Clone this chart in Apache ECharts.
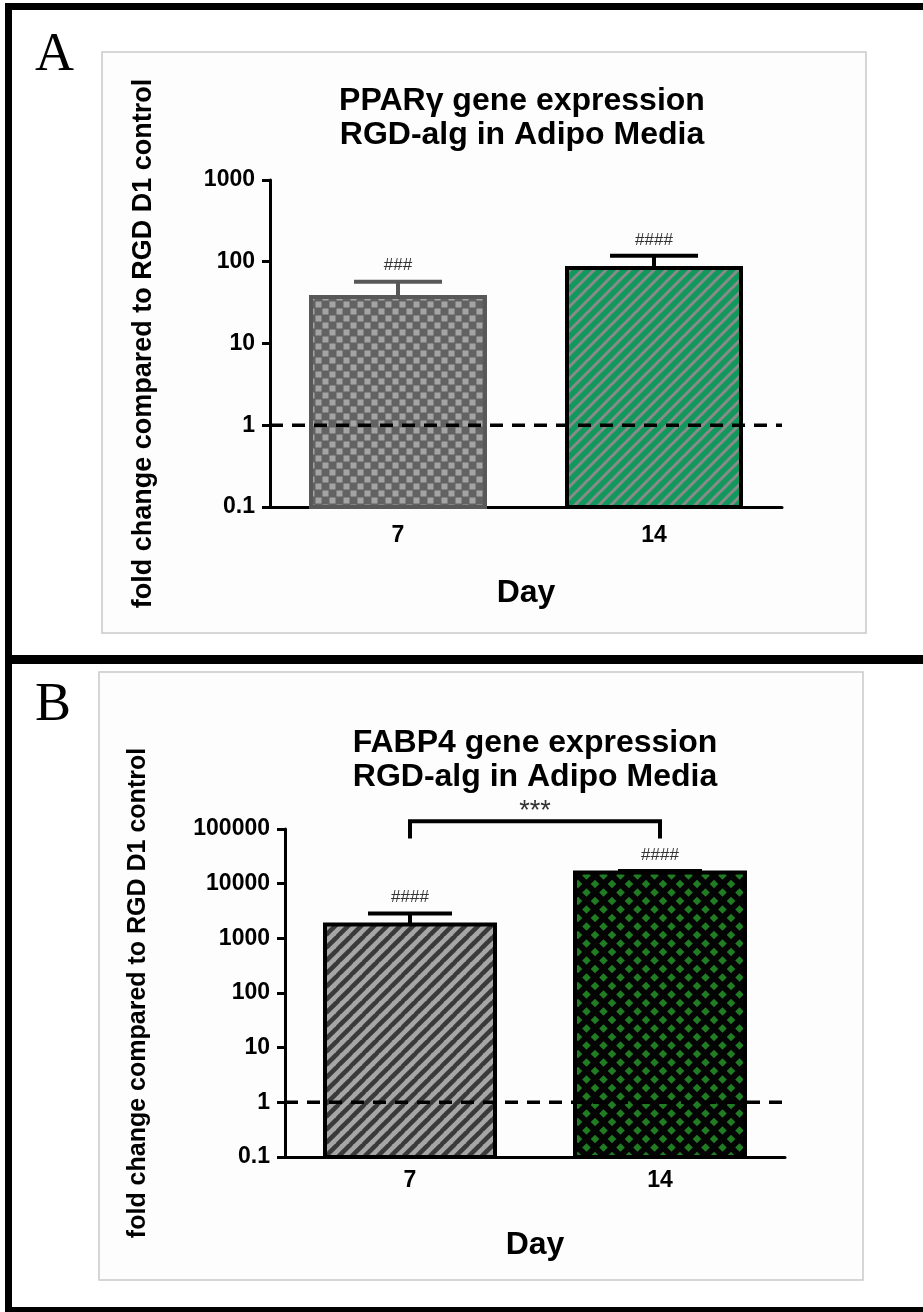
<!DOCTYPE html>
<html>
<head>
<meta charset="utf-8">
<title>PPARγ and FABP4 gene expression, RGD-alg in Adipo Media</title>
<script src="https://cdn.jsdelivr.net/npm/echarts@6/dist/echarts.min.js"></script>
<style>
  html, body { margin: 0; padding: 0; background: #ffffff; }
  #chart { width: 923px; height: 1312px; }
</style>
</head>
<body>
<div id="chart"></div>
<script>
// ---- data ----
const days = ['7', '14'];

// Panel A: PPARγ fold change (mean, mean + SEM)
const pparMean = [37, 84];
const pparUpper = [57, 118];
const pparMarks = ['###', '####'];
const pparTicks = [0.1, 1, 10, 100, 1000];

// Panel B: FABP4 fold change (mean, mean + SEM)
const fabpMean = [1800, 16000];
const fabpUpper = [2850, 17000];
const fabpMarks = ['####', '####'];
const fabpTicks = [0.1, 1, 10, 100, 1000, 10000, 100000];

// Day 7 vs day 14 comparison in panel B: [from, to, bracket level, leg end, label]
const fabpBracket = [[0, 1, 138000, 67000, '***']];

// Reference level: RGD day 1 control
const controlLevel = [1];

// ---- fill patterns ----
function tile(w, h, draw) {
  const c = document.createElement('canvas');
  c.width = w; c.height = h;
  draw(c.getContext('2d'), w, h);
  return { image: c, repeat: 'repeat' };
}
const checkerGray = tile(14, 14, (g) => {
  g.fillStyle = '#626262'; g.fillRect(0, 0, 14, 14);
  g.fillStyle = '#a4a4a4';
  g.fillRect(0.5, 0.5, 6, 6); g.fillRect(7.5, 7.5, 6, 6);
});
function stripes(bg, fg, period, width) {
  return tile(period, period, (g, w, h) => {
    g.fillStyle = bg; g.fillRect(0, 0, w, h);
    g.strokeStyle = fg; g.lineWidth = width;
    for (let k = -1; k <= 1; k++) {
      g.beginPath();
      g.moveTo(k * w - 1, h + 1);
      g.lineTo(k * w + w + 1, -1);
      g.stroke();
    }
  });
}
const greenStripes = stripes('#12985c', '#8a8a8a', 12, 3);
const grayStripes = stripes('#a6a6a6', '#3a3a3a', 13, 4.5);
const diamondGreen = tile(17, 17, (g) => {
  g.fillStyle = '#040404'; g.fillRect(0, 0, 17, 17);
  g.fillStyle = '#217d23';
  const d = (cx, cy, r) => {
    g.beginPath();
    g.moveTo(cx, cy - r); g.lineTo(cx + r, cy); g.lineTo(cx, cy + r); g.lineTo(cx - r, cy);
    g.closePath(); g.fill();
  };
  d(8.5, 8.5, 4.3);
  d(0, 0, 4.3); d(17, 0, 4.3); d(0, 17, 4.3); d(17, 17, 4.3);
});

const FONT = '"Liberation Sans", Arial, sans-serif';
const SERIF = '"Liberation Serif", "Times New Roman", serif';

// ---- builders ----
function xAxisFor(gridIndex, labelMargin, nameGap) {
  return {
    type: 'category', gridIndex, data: days,
    axisLine: { lineStyle: { color: '#000', width: 3 } },
    axisTick: { alignWithLabel: true, length: 7, lineStyle: { color: '#000', width: 3 } },
    axisLabel: { color: '#000', fontFamily: FONT, fontWeight: 'bold', fontSize: 23, margin: labelMargin },
    name: 'Day', nameLocation: 'middle', nameGap,
    nameTextStyle: { color: '#000', fontFamily: FONT, fontWeight: 'bold', fontSize: 32 }
  };
}
function yAxisFor(gridIndex, ticks, nameGap, nameSize) {
  return {
    type: 'log', logBase: 10, gridIndex,
    min: ticks[0], max: ticks[ticks.length - 1],
    axisLine: { show: true, lineStyle: { color: '#000', width: 3 } },
    axisTick: { show: true, length: 8, lineStyle: { color: '#000', width: 3 } },
    minorTick: { show: false },
    splitLine: { show: false },
    axisLabel: {
      color: '#000', fontFamily: FONT, fontWeight: 'bold', fontSize: 23, margin: 15,
      formatter: (v) => String(+v.toPrecision(6))
    },
    name: 'fold change compared to RGD D1 control',
    nameLocation: 'middle', nameRotate: 90, nameGap,
    nameTextStyle: { color: '#000', fontFamily: FONT, fontWeight: 'bold', fontSize: nameSize }
  };
}
// Bars are drawn from the bottom of the log axis up to the mean
function barSeries(idx, means, baseValue, fills, borders, width) {
  return {
    type: 'custom', xAxisIndex: idx, yAxisIndex: idx, z: 2,
    data: means.map((v, i) => [i, v]),
    renderItem: (params, api) => {
      const i = api.value(0);
      const top = api.coord([i, api.value(1)]);
      const base = api.coord([i, baseValue]);
      return {
        type: 'rect',
        shape: { x: top[0] - width / 2, y: top[1], width, height: base[1] - top[1] },
        style: { fill: fills[i], stroke: borders[i], lineWidth: 4 }
      };
    }
  };
}
// Dashed reference line across the whole plot width
function controlSeries(idx) {
  return {
    type: 'custom', xAxisIndex: idx, yAxisIndex: idx, z: 4,
    data: controlLevel.map((v) => [0, v]),
    renderItem: (params, api) => {
      const cs = params.coordSys;
      const y = api.coord([0, api.value(1)])[1];
      return {
        type: 'line',
        shape: { x1: cs.x, y1: y, x2: cs.x + cs.width, y2: y },
        style: { stroke: '#000', lineWidth: 3.5, lineDash: [13, 9] }
      };
    }
  };
}
function errorSeries(idx, means, uppers, marks, colors, capHalf) {
  return {
    type: 'custom', xAxisIndex: idx, yAxisIndex: idx, z: 3,
    data: means.map((m, i) => [i, uppers[i], m]),
    renderItem: (params, api) => {
      const i = api.value(0);
      const top = api.coord([i, api.value(1)]);
      const base = api.coord([i, api.value(2)]);
      const stroke = { stroke: colors[i], lineWidth: 4 };
      return {
        type: 'group',
        children: [
          { type: 'line', shape: { x1: top[0], y1: base[1], x2: top[0], y2: top[1] }, style: stroke },
          { type: 'line', shape: { x1: top[0] - capHalf, y1: top[1], x2: top[0] + capHalf, y2: top[1] }, style: stroke },
          {
            type: 'text', x: top[0], y: top[1] - 16,
            style: {
              text: marks[i], fill: '#333', font: '17px ' + FONT,
              align: 'center', verticalAlign: 'middle'
            }
          }
        ]
      };
    }
  };
}
function bracketSeries(idx, pairs) {
  return {
    type: 'custom', xAxisIndex: idx, yAxisIndex: idx, z: 3,
    data: pairs.map((p) => [p[0], p[1], p[2], p[3]]),
    renderItem: (params, api) => {
      const a = api.coord([api.value(0), api.value(2)]);
      const b = api.coord([api.value(1), api.value(2)]);
      const leg = api.coord([api.value(0), api.value(3)]);
      const label = pairs[params.dataIndex][4];
      return {
        type: 'group',
        children: [
          {
            type: 'polyline',
            shape: { points: [[a[0], leg[1]], [a[0], a[1]], [b[0], b[1]], [b[0], leg[1]]] },
            style: { stroke: '#000', lineWidth: 4, fill: null }
          },
          {
            type: 'text', x: (a[0] + b[0]) / 2, y: a[1] - 10,
            style: { text: label, fill: '#333', font: '27px ' + FONT, align: 'center', verticalAlign: 'middle' }
          }
        ]
      };
    }
  };
}

// ---- page frame, panel boxes, titles and letters ----
function titleLines(cx, y1, lines) {
  return lines.map((t, k) => ({
    type: 'text', x: cx, y: y1 + k * 34,
    style: { text: t, font: 'bold 32px ' + FONT, fill: '#000', align: 'center', verticalAlign: 'middle' }
  }));
}
const graphics = [
  { type: 'rect', shape: { x: 102, y: 52, width: 764, height: 581 }, style: { fill: '#fdfdfd', stroke: '#c9c9c9', lineWidth: 1.5 }, z: -10 },
  { type: 'rect', shape: { x: 99, y: 672, width: 764, height: 608 }, style: { fill: '#fdfdfd', stroke: '#c9c9c9', lineWidth: 1.5 }, z: -10 },
  { type: 'rect', shape: { x: 5, y: 3, width: 918, height: 7 }, style: { fill: '#000' } },
  { type: 'rect', shape: { x: 5, y: 3, width: 7, height: 1309 }, style: { fill: '#000' } },
  { type: 'rect', shape: { x: 5, y: 655, width: 918, height: 9 }, style: { fill: '#000' } },
  { type: 'rect', shape: { x: 5, y: 1307, width: 918, height: 5 }, style: { fill: '#000' } },
  { type: 'text', x: 35, y: 29, style: { text: 'A', font: '54px ' + SERIF, fill: '#000' } },
  { type: 'text', x: 35, y: 679, style: { text: 'B', font: '54px ' + SERIF, fill: '#000' } }
].concat(
  titleLines(522, 101, ['PPARγ gene expression', 'RGD-alg in Adipo Media']),
  titleLines(535, 743, ['FABP4 gene expression', 'RGD-alg in Adipo Media'])
);

const chart = echarts.init(document.getElementById('chart'), null, { renderer: 'canvas' });
chart.setOption({
  backgroundColor: '#ffffff',
  animation: false,
  graphic: graphics,
  grid: [
    { left: 270, top: 180, width: 512, height: 327 },
    { left: 285, top: 829, width: 500, height: 328 }
  ],
  xAxis: [xAxisFor(0, 17, 70), xAxisFor(1, 12, 72)],
  yAxis: [yAxisFor(0, pparTicks, 113, 27), yAxisFor(1, fabpTicks, 134, 25)],
  series: [
    barSeries(0, pparMean, pparTicks[0], [checkerGray, greenStripes], ['#585858', '#000'], 174),
    errorSeries(0, pparMean, pparUpper, pparMarks, ['#585858', '#000'], 44),
    controlSeries(0),
    barSeries(1, fabpMean, fabpTicks[0], [grayStripes, diamondGreen], ['#000', '#000'], 170),
    errorSeries(1, fabpMean, fabpUpper, fabpMarks, ['#000', '#000'], 42),
    bracketSeries(1, fabpBracket),
    controlSeries(1)
  ]
});
</script>
</body>
</html>
